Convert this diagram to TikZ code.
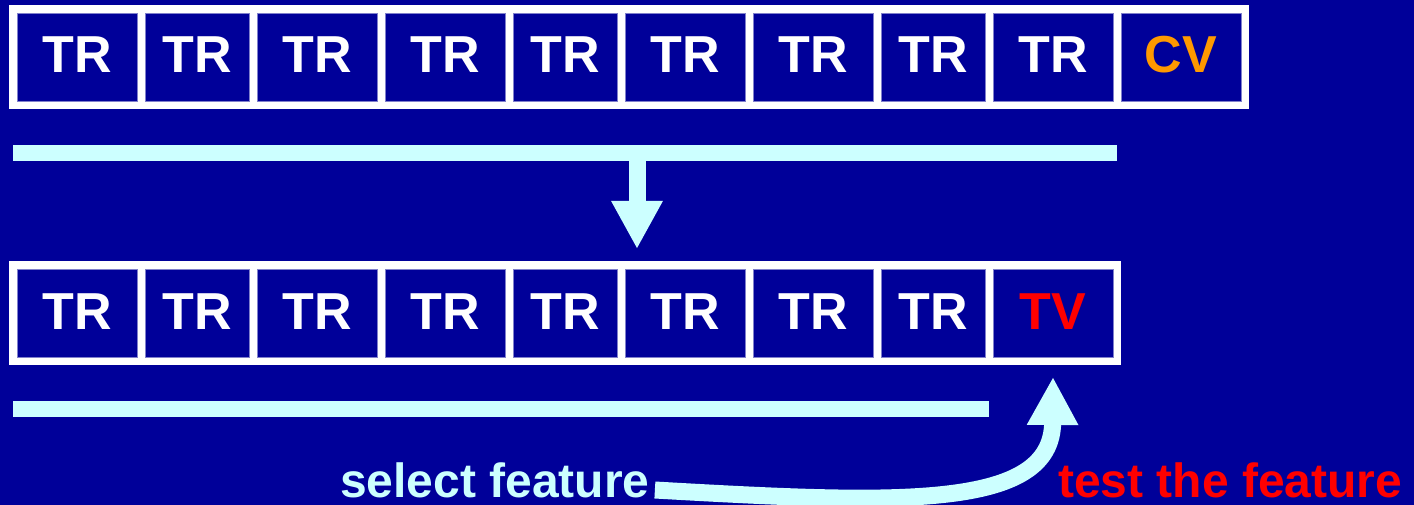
\documentclass[tikz,border=0pt]{standalone}
\usepackage{fontspec}
\setmainfont{Liberation Sans}
\usetikzlibrary{arrows.meta,positioning,calc}
\definecolor{deep}{HTML}{000099}
\definecolor{pale}{HTML}{CCFFFF}
\definecolor{rim}{HTML}{8080CC}
\definecolor{amber}{HTML}{FF9900}
\definecolor{alarm}{HTML}{FF0000}

\begin{document}
\begin{tikzpicture}[x=1pt, y=-1pt,
    node distance=8pt,
    frame/.style={fill=white, inner sep=0pt, outer sep=0pt, minimum height=104pt},
    cell/.style={draw=rim, line width=0.6pt, fill=deep, inner sep=0pt, outer sep=0pt,
      minimum height=88pt, minimum width=120pt, text height=37pt, text depth=5pt,
      text=white, font=\fontsize{52}{60}\selectfont\bfseries},
    thin/.style={cell, minimum width=104pt},
    bar/.style={draw=pale, line width=16pt},
    fat/.style={draw=pale, line width=17pt, -{Triangle[width=48pt, length=48pt]}},
    lbl/.style={inner sep=0pt, font=\fontsize{48}{56}\selectfont\bfseries}]
  \fill[deep] (0,0) rectangle (1414,505);
  \useasboundingbox (0,0) rectangle (1414,505);

  % all folds, last one held out for cross-validation
  \node[frame, minimum width=1240pt] (topframe) at (629,57) {};
  \node[cell] (t1) at (77,57) {TR};
  \node[thin, right=of t1] (t2) {TR};
  \node[cell, right=of t2] (t3) {TR};
  \node[cell, right=of t3] (t4) {TR};
  \node[thin, right=of t4] (t5) {TR};
  \node[cell, right=of t5] (t6) {TR};
  \node[cell, right=of t6] (t7) {TR};
  \node[thin, right=of t7] (t8) {TR};
  \node[cell, right=of t8] (t9) {TR};
  \node[cell, right=of t9, text=amber] (t10) {CV};

  % training part split again
  \node[frame, minimum width=1112pt] (botframe) at (565,313) {};
  \node[cell] (b1) at (77,313) {TR};
  \node[thin, right=of b1] (b2) {TR};
  \node[cell, right=of b2] (b3) {TR};
  \node[cell, right=of b3] (b4) {TR};
  \node[thin, right=of b4] (b5) {TR};
  \node[cell, right=of b5] (b6) {TR};
  \node[cell, right=of b6] (b7) {TR};
  \node[thin, right=of b7] (b8) {TR};
  \node[cell, right=of b8, text=alarm] (b9) {TV};

  % bars under the rows
  \coordinate (tbL) at (13,153);
  \coordinate (tbR) at (1117,153);
  \coordinate (tbM) at (637,153);
  \coordinate (tbTip) at (637,249);
  \coordinate (bbL) at (13,409);
  \coordinate (bbR) at (989,409);
  \draw[bar] (tbL) -- (tbR);
  \draw[fat] (tbM) -- (tbTip);
  \draw[bar] (bbL) -- (bbR);

  \node[lbl, text=pale, anchor=base west] (sel) at (340,497) {select feature};
  \node[lbl, text=alarm, anchor=base west] (tst) at (1058,497) {test the feature};
  \draw[fat] ($(sel.base east)+(5,-7)$) .. controls (900,504) and (1052,510)
    .. ($(b9.south)+(0,20)$);
\end{tikzpicture}
\end{document}
